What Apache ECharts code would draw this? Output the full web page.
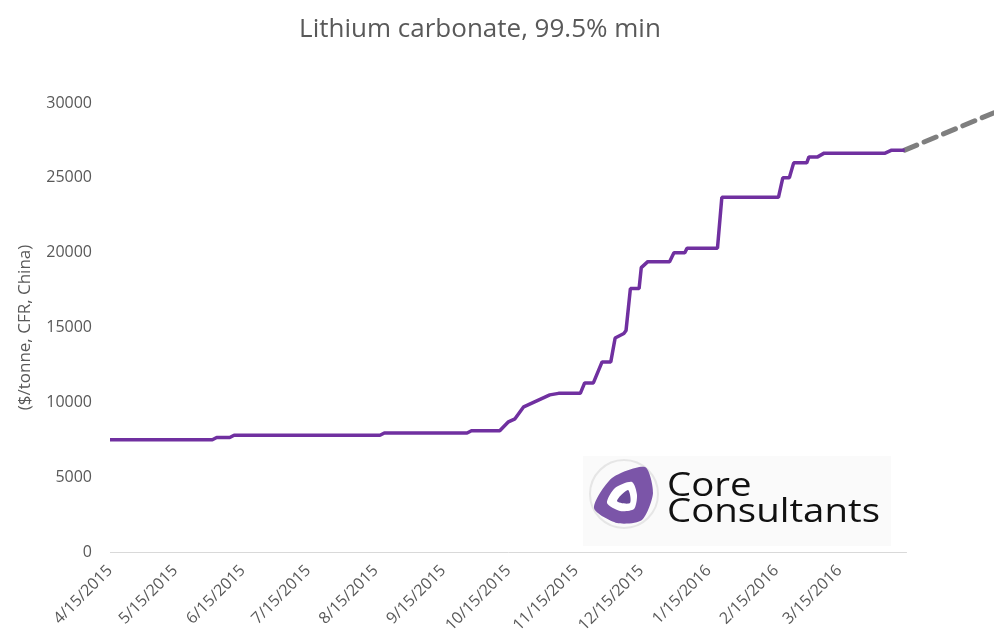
<!DOCTYPE html>
<html>
<head>
<meta charset="utf-8">
<script src="https://cdn.jsdelivr.net/npm/echarts@6/dist/echarts.min.js"></script>
<style>
  html, body { margin: 0; padding: 0; background: #fff; }
  #chart { width: 994px; height: 641px; }
</style>
</head>
<body>
<div id="chart"></div>
<script>
// price series (step-like changes)
const priceDates = ['4/15/2015', '6/1/2015', '6/3/2015', '6/9/2015', '6/11/2015', '8/17/2015', '8/19/2015',
  '9/26/2015', '9/28/2015', '10/11/2015', '10/15/2015', '10/18/2015', '10/22/2015', '10/25/2015', '10/28/2015',
  '10/31/2015', '11/3/2015', '11/7/2015', '11/17/2015', '11/19/2015', '11/23/2015', '11/27/2015', '12/1/2015',
  '12/3/2015', '12/7/2015', '12/8/2015', '12/10/2015', '12/14/2015', '12/15/2015', '12/18/2015', '12/28/2015',
  '12/30/2015', '1/4/2016', '1/5/2016', '1/19/2016', '1/21/2016', '2/16/2016', '2/18/2016', '2/21/2016',
  '2/23/2016', '2/29/2016', '3/1/2016', '3/5/2016', '3/8/2016', '4/5/2016', '4/8/2016', '4/14/2016']
const priceValues = [7500, 7500, 7650, 7650, 7800, 7800, 7950, 7950, 8100, 8100, 8700, 8900, 9700, 9900, 10100,
  10300, 10500, 10600, 10600, 11300, 11300, 12700, 12700, 14300, 14600, 14800, 17600, 17600, 19000, 19400, 19400,
  20000, 20000, 20300, 20300, 23700, 23700, 25000, 25000, 26000, 26000, 26400, 26400, 26650, 26650, 26850, 26850]

// dashed outlook line
const forecastDates = ['4/14/2016', '5/25/2016']
const forecastValues = [26850, 29350]

const tickLabels = ['4/15/2015', '5/15/2015', '6/15/2015', '7/15/2015', '8/15/2015', '9/15/2015', '10/15/2015',
  '11/15/2015', '12/15/2015', '1/15/2016', '2/15/2016', '3/15/2016']

const axisStart = '4/15/2015'
const axisEnd = '4/15/2016'
const viewEnd = '5/25/2016'

const DAY = 24 * 3600 * 1000
function toTime(s) {
  const p = s.split('/')
  return Date.UTC(+p[2], +p[0] - 1, +p[1])
}
// x axis runs in days counted from axisStart
function toDay(s) {
  return Math.round((toTime(s) - toTime(axisStart)) / DAY)
}
function fmt(day) {
  const d = new Date(toTime(axisStart) + Math.round(day) * DAY)
  return (d.getUTCMonth() + 1) + '/' + d.getUTCDate() + '/' + d.getUTCFullYear()
}

const chart = echarts.init(document.getElementById('chart'))
const font = '"Open Sans", sans-serif'
const grey = '#595959'

chart.setOption({
  animation: false,
  title: {
    text: 'Lithium carbonate, 99.5% min',
    left: 475,
    textAlign: 'center',
    top: 12,
    textStyle: { fontFamily: font, fontSize: 26, fontWeight: 'normal', color: grey }
  },
  grid: { left: 110, right: 0, top: 103, bottom: 89, containLabel: false },
  xAxis: {
    type: 'value',
    min: 0,
    max: toDay(viewEnd),
    axisLine: { show: false },
    axisTick: { show: false },
    splitLine: { show: false },
    axisLabel: {
      customValues: tickLabels.map(toDay),
      formatter: v => fmt(v),
      rotate: 45,
      margin: 16,
      color: grey,
      fontFamily: font,
      fontSize: 16
    }
  },
  yAxis: {
    type: 'value',
    min: 0,
    max: 30000,
    interval: 5000,
    name: '($/tonne, CFR, China)',
    nameLocation: 'middle',
    nameGap: 76,
    nameTextStyle: { fontFamily: font, fontSize: 17, color: grey },
    axisLine: { show: false },
    axisTick: { show: false },
    splitLine: { show: false },
    axisLabel: { margin: 18, color: grey, fontFamily: font, fontSize: 16, formatter: v => String(v) }
  },
  graphic: [
    { type: 'rect', shape: { x: 583, y: 456, width: 308, height: 90 }, style: { fill: '#fafafa' }, z: 1 },
    { type: 'circle', shape: { cx: 624, cy: 494, r: 34 }, style: { fill: 'none', stroke: '#e6e6e6', lineWidth: 2 }, z: 2 },
    {
      type: 'polygon',
      shape: { points: [[645, 467], [612, 478], [594, 508], [617, 523], [642, 520], [653, 493]], smooth: 0.25 },
      style: { fill: '#7b55a8' },
      z: 3
    },
    {
      type: 'polygon',
      shape: { points: [[632, 482], [615, 488], [607, 503], [620, 511], [634, 509], [637, 495]], smooth: 0.25 },
      style: { fill: '#fff' },
      z: 4
    },
    {
      type: 'polygon',
      shape: { points: [[628, 490], [617, 501], [630, 503]], smooth: 0.3 },
      style: { fill: '#6a4a9a' },
      z: 5
    },
    {
      type: 'text',
      x: 667,
      y: 474,
      scaleX: 1.2,
      style: { text: 'Core\nConsultants', fontFamily: font, fontSize: 32, lineHeight: 26, fill: '#111', verticalAlign: 'top' },
      z: 5
    }
  ],
  series: [
    {
      name: 'forecast',
      type: 'line',
      symbol: 'none',
      data: forecastDates.map((d, i) => [toDay(d), forecastValues[i]]),
      lineStyle: { color: '#7f7f7f', width: 5, type: [13, 8], cap: 'round' },
      z: 2
    },
    {
      name: 'price',
      type: 'line',
      symbol: 'none',
      data: priceDates.map((d, i) => [toDay(d), priceValues[i]]),
      lineStyle: { color: '#7030a0', width: 3.5 },
      markLine: {
        silent: true,
        symbol: 'none',
        label: { show: false },
        lineStyle: { color: '#d9d9d9', width: 1, type: 'solid' },
        data: [[{ coord: [0, 0] }, { coord: [toDay(axisEnd), 0] }]]
      },
      z: 3
    }
  ]
})
</script>
</body>
</html>
